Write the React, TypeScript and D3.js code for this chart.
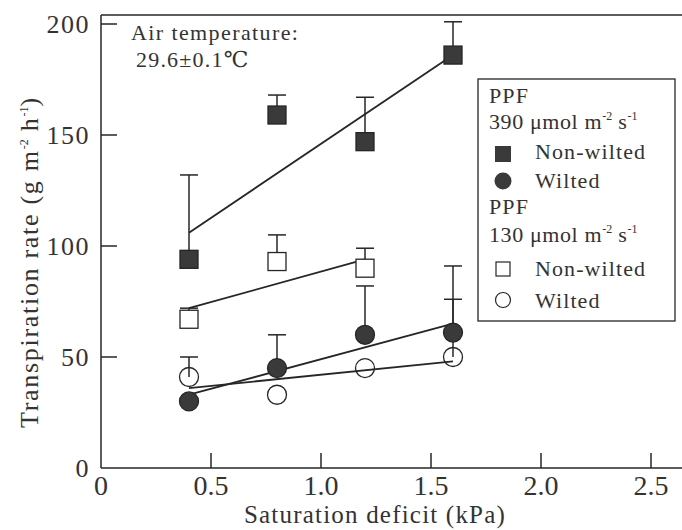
import React from "react";
import * as d3 from "d3";

const W = 682;
const H = 530;
const X0 = 101;
const Y0 = 468;

// x positions (kPa)
const deficit = [0.4, 0.8, 1.2, 1.6];

// PPF 390, non-wilted (filled squares)
const hiNonWilted = [94, 159, 147, 186];
const hiNonWiltedErr = [132, 168, 167, 201];
// PPF 390, wilted (filled circles)
const hiWilted = [30, 45, 60, 61];
const hiWiltedErr = [null, 60, 82, 91];
// PPF 130, non-wilted (open squares)
const loNonWilted = [67, 93, 90];
const loNonWiltedErr = [72, 105, 99];
// PPF 130, wilted (open circles)
const loWilted = [41, 33, 45, 50];
const loWiltedErr = [50, null, null, 76];

// regression lines [x1, y1, x2, y2]
const fitLines = [
  [0.4, 106, 1.6, 186],
  [0.4, 72, 1.2, 94],
  [0.4, 33, 1.6, 65],
  [0.4, 36, 1.6, 48],
];

const xTicks = [0, 0.5, 1.0, 1.5, 2.0, 2.5];
const yTicks = [0, 50, 100, 150, 200];

const FONT = "'Liberation Serif', 'DejaVu Serif', serif";
const INK = "#262626";
const TXT = "#333";
const FILL = "#3a3a3a";

export default function App() {
  const x = d3.scaleLinear().domain([0, 2.5]).range([X0, 651]);
  const y = d3.scaleLinear().domain([0, 200]).range([Y0, 24]);
  const top = 15;

  const errBars = (vals: number[], errs: (number | null)[]) =>
    vals.map((v, i) => {
      const e = errs[i];
      if (e == null) return null;
      const cx = x(deficit[i]);
      return (
        <g key={i} stroke={INK} strokeWidth={1.5}>
          <line x1={cx} x2={cx} y1={y(v)} y2={y(e)} />
          <line x1={cx - 9} x2={cx + 9} y1={y(e)} y2={y(e)} />
        </g>
      );
    });

  const squares = (vals: number[], filled: boolean) =>
    vals.map((v, i) => (
      <rect
        key={i}
        x={x(deficit[i]) - 9}
        y={y(v) - 9}
        width={18}
        height={18}
        fill={filled ? FILL : "#fff"}
        stroke={INK}
        strokeWidth={1.3}
      />
    ));

  const circles = (vals: number[], filled: boolean) =>
    vals.map((v, i) => (
      <circle
        key={i}
        cx={x(deficit[i])}
        cy={y(v)}
        r={9.5}
        fill={filled ? FILL : "none"}
        stroke={INK}
        strokeWidth={1.3}
      />
    ));

  const sup = (t: string, d = 9) => (
    <tspan dy={-d} fontSize={12} letterSpacing={0}>
      {t}
    </tspan>
  );
  const unitLine = (num: string, yy: number) => (
    <text x={489} y={yy} fontSize={22} letterSpacing={0.6}>
      {num} μmol m{sup("-2")}
      <tspan dy={9}> s</tspan>
      {sup("-1")}
    </text>
  );
  const legText = (t: string, xx: number, yy: number) => (
    <text x={xx} y={yy} fontSize={22} letterSpacing={1.1}>
      {t}
    </text>
  );

  return (
    <div style={{ position: "absolute", left: 0, top: 0 }}>
      <svg width={W} height={H} style={{ display: "block", background: "#fff" }} fontFamily={FONT} fill={TXT}>
        {/* frame */}
        <g stroke={INK} strokeWidth={1.5} fill="none">
          <line x1={X0} x2={W} y1={top} y2={top} />
          <line x1={X0} x2={X0} y1={top} y2={Y0} />
          <line x1={X0} x2={W} y1={Y0} y2={Y0} />
          {xTicks.slice(1).map((t) => (
            <line key={t} x1={x(t)} x2={x(t)} y1={Y0} y2={Y0 - 15} />
          ))}
          {yTicks.slice(1).map((t) => (
            <line key={t} x1={X0} x2={X0 + 16} y1={y(t)} y2={y(t)} />
          ))}
        </g>
        {xTicks.map((t) => (
          <text key={t} x={x(t)} y={495} fontSize={28} textAnchor="middle">
            {t === 0 ? "0" : d3.format(".1f")(t)}
          </text>
        ))}
        {yTicks.map((t) => (
          <text key={t} x={90} y={y(t) + 9} fontSize={26} letterSpacing={1.5} textAnchor="end">
            {t}
          </text>
        ))}
        <text x={375} y={523} fontSize={25} letterSpacing={1.2} textAnchor="middle">
          Saturation deficit (kPa)
        </text>
        <text transform={`translate(38,${262}) rotate(-90)`} fontSize={26} letterSpacing={1.7} textAnchor="middle">
          Transpiration rate (g m{sup("-2", 10)}
          <tspan dy={10}> h</tspan>
          {sup("-1", 10)}
          <tspan dy={10}>)</tspan>
        </text>

        <text x={131} y={40} fontSize={22} letterSpacing={1.4}>
          Air temperature:
        </text>
        <text x={136} y={67} fontSize={22} letterSpacing={1.2}>
          29.6±0.1℃
        </text>

        {/* fit lines */}
        <g stroke={INK} strokeWidth={1.8}>
          {fitLines.map((l, i) => (
            <line key={i} x1={x(l[0])} y1={y(l[1])} x2={x(l[2])} y2={y(l[3])} />
          ))}
        </g>

        {errBars(hiNonWilted, hiNonWiltedErr)}
        {errBars(loNonWilted, loNonWiltedErr)}
        {errBars(hiWilted, hiWiltedErr)}
        {errBars(loWilted, loWiltedErr)}

        {squares(hiNonWilted, true)}
        {squares(loNonWilted, false)}
        {circles(loWilted, false)}
        {circles(hiWilted, true)}

        {/* legend */}
        <rect x={478} y={79} width={197} height={242} fill="#fff" stroke={INK} strokeWidth={1.3} />
        {legText("PPF", 489, 103)}
        {unitLine("390", 129)}
        <rect x={495} y={146} width={16} height={16} fill={FILL} />
        {legText("Non-wilted", 535, 159)}
        <circle cx={503} cy={181} r={8.5} fill={FILL} />
        {legText("Wilted", 535, 188)}
        {legText("PPF", 489, 214)}
        {unitLine("130", 242)}
        <rect x={496} y={262} width={14} height={14} fill="none" stroke={INK} strokeWidth={1.2} />
        {legText("Non-wilted", 535, 276)}
        <circle cx={503} cy={300} r={7.5} fill="none" stroke={INK} strokeWidth={1.2} />
        {legText("Wilted", 535, 308)}
      </svg>
    </div>
  );
}
